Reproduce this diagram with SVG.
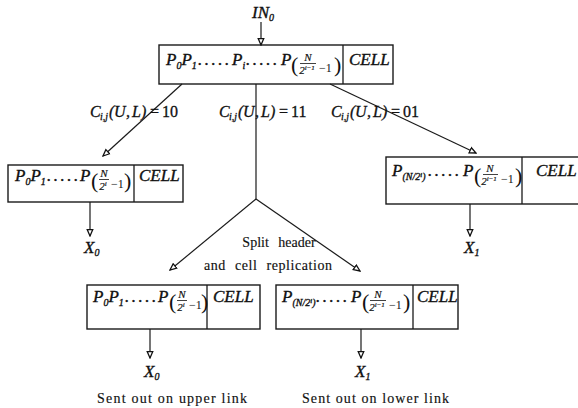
<svg xmlns="http://www.w3.org/2000/svg" width="578" height="408" viewBox="0 0 578 408">
  <style>
    .box { fill: #fff; stroke: #1a1a1a; stroke-width: 1.4; }
    .div { stroke: #1a1a1a; stroke-width: 1.3; }
    .ln { stroke: #1a1a1a; stroke-width: 1.2; fill: none; }
    .arw { marker-end: url(#ah); }
    .m { font-family: "Liberation Serif", serif; font-style: italic; font-size: 17px; fill: #111; stroke: #111; stroke-width: 0.35; }
    .s { font-size: 10px; }
    .fr { font-family: "Liberation Serif", serif; font-style: italic; font-size: 11px; fill: #111; text-anchor: middle; stroke: #111; stroke-width: 0.2; }
    .sp { font-size: 7px; }
    .r { font-family: "Liberation Serif", serif; font-size: 12px; fill: #111; }
    .pa { font-family: "Liberation Serif", serif; font-size: 22px; fill: #111; }
    .dots { letter-spacing: 2.5px; }
    .lab { font-family: "Liberation Serif", serif; font-size: 16px; fill: #111; stroke: #111; stroke-width: 0.3; }
    .it { font-style: italic; }
    .cap { font-family: "Liberation Serif", serif; font-size: 14px; fill: #111; stroke: #111; stroke-width: 0.15; }
    .bar { stroke: #111; stroke-width: 0.8; }
  </style>
  <defs>
    <marker id="ah" viewBox="0 0 10 10" refX="9" refY="5" markerWidth="8" markerHeight="8" orient="auto" markerUnits="userSpaceOnUse">
      <path d="M1,1.5 L9,5 L1,8.5 Z" fill="#fff" stroke="#111" stroke-width="1.6"/>
    </marker>
  </defs>

  <!-- input label -->
  <g id="in0">
    <text class="m" x="252" y="18" font-size="16">IN<tspan class="s" dy="3">0</tspan></text>
  </g>

  <!-- incoming cell with full header -->
  <g id="top">
    <rect class="box" x="159" y="45" width="234" height="39"/>
    <line class="div" x1="343" y1="45" x2="343" y2="84"/>
    <text class="m" x="166" y="65">P<tspan class="s" dy="4">0</tspan><tspan dy="-4">P</tspan><tspan class="s" dy="4">1</tspan></text>
    <text class="m dots" x="198" y="65">.....</text>
    <text class="m" x="232" y="65">P<tspan class="s" dy="4">i</tspan></text>
    <text class="m dots" x="246" y="65">.....</text>
    <text class="m" x="281" y="65">P</text>
    <text class="pa" x="291" y="72">(</text>
    <text class="fr" x="308" y="61">N</text>
    <line class="bar" x1="300" y1="63.5" x2="316" y2="63.5"/>
    <text class="fr" x="307" y="74">2<tspan class="sp" dy="-4">i−1</tspan></text>
    <text class="r" x="319" y="72">−1</text>
    <text class="pa" x="334" y="72">)</text>
    <text class="m" x="349" y="65">CELL</text>
  </g>

  <!-- upper output only -->
  <g id="left">
    <rect class="box" x="8" y="165" width="175" height="37"/>
    <line class="div" x1="134" y1="165" x2="134" y2="202"/>
    <text class="m" x="15" y="181">P<tspan class="s" dy="4">0</tspan><tspan dy="-4">P</tspan><tspan class="s" dy="4">1</tspan></text>
    <text class="m dots" x="47" y="181">.....</text>
    <text class="m" x="80" y="181">P</text>
    <text class="pa" x="91" y="188">(</text>
    <text class="fr" x="104" y="177">N</text>
    <line class="bar" x1="99" y1="179.5" x2="109" y2="179.5"/>
    <text class="fr" x="103" y="190">2<tspan class="sp" dy="-4">i</tspan></text>
    <text class="r" x="111" y="188">−1</text>
    <text class="pa" x="124" y="188">)</text>
    <text class="m" x="139" y="181">CELL</text>
  </g>

  <!-- lower output only -->
  <g id="right">
    <rect class="box" x="386" y="157" width="198" height="47"/>
    <line class="div" x1="522" y1="157" x2="522" y2="204"/>
    <text class="m" x="392" y="176">P<tspan class="s" dy="4">(N/2<tspan class="sp" dy="-3">i</tspan><tspan dy="3">)</tspan></tspan></text>
    <text class="m dots" x="428" y="176">.....</text>
    <text class="m" x="463" y="176">P</text>
    <text class="pa" x="474" y="183">(</text>
    <text class="fr" x="490" y="172">N</text>
    <line class="bar" x1="483" y1="174.5" x2="498" y2="174.5"/>
    <text class="fr" x="489" y="185">2<tspan class="sp" dy="-4">i−1</tspan></text>
    <text class="r" x="501" y="183">−1</text>
    <text class="pa" x="515" y="183">)</text>
    <text class="m" x="536" y="176">CELL</text>
  </g>

  <!-- replicated copy, upper link -->
  <g id="copy-upper">
    <rect class="box" x="87" y="285" width="173" height="44"/>
    <line class="div" x1="207" y1="285" x2="207" y2="329"/>
    <text class="m" x="93" y="302">P<tspan class="s" dy="4">0</tspan><tspan dy="-4">P</tspan><tspan class="s" dy="4">1</tspan></text>
    <text class="m dots" x="125" y="302">.....</text>
    <text class="m" x="158" y="302">P</text>
    <text class="pa" x="169" y="309">(</text>
    <text class="fr" x="182" y="298">N</text>
    <line class="bar" x1="177" y1="300.5" x2="187" y2="300.5"/>
    <text class="fr" x="181" y="311">2<tspan class="sp" dy="-4">i</tspan></text>
    <text class="r" x="189" y="309">−1</text>
    <text class="pa" x="201" y="309">)</text>
    <text class="m" x="213" y="302">CELL</text>
  </g>

  <!-- replicated copy, lower link -->
  <g id="copy-lower">
    <rect class="box" x="276" y="285" width="182" height="44"/>
    <line class="div" x1="413" y1="285" x2="413" y2="329"/>
    <text class="m" x="282" y="302">P<tspan class="s" dy="4">(N/2<tspan class="sp" dy="-3">i</tspan><tspan dy="3">)</tspan></tspan></text>
    <text class="m dots" x="316" y="302">.....</text>
    <text class="m" x="351" y="302">P</text>
    <text class="pa" x="362" y="309">(</text>
    <text class="fr" x="378" y="298">N</text>
    <line class="bar" x1="370" y1="300.5" x2="386" y2="300.5"/>
    <text class="fr" x="377" y="311">2<tspan class="sp" dy="-4">i−1</tspan></text>
    <text class="r" x="389" y="309">−1</text>
    <text class="pa" x="403" y="309">)</text>
    <text class="m" x="417" y="302">CELL</text>
  </g>

  <!-- connectors -->
  <g id="connectors">
    <line class="ln arw" x1="261" y1="22" x2="261" y2="45"/>
    <line class="ln arw" x1="182" y1="84" x2="103" y2="156"/>
    <line class="ln" x1="256" y1="84" x2="256" y2="199"/>
    <line class="ln arw" x1="330" y1="84" x2="476" y2="153"/>
    <line class="ln arw" x1="256" y1="199" x2="170" y2="270"/>
    <line class="ln arw" x1="256" y1="199" x2="360" y2="271"/>
    <line class="ln arw" x1="90" y1="202" x2="90" y2="236"/>
    <line class="ln arw" x1="470" y1="204" x2="470" y2="236"/>
    <line class="ln arw" x1="150" y1="329" x2="150" y2="358"/>
    <line class="ln arw" x1="361" y1="329" x2="361" y2="358"/>
  </g>

  <!-- routing-bit labels -->
  <g id="labels">
    <text class="lab" y="117"><tspan class="it" x="90">C</tspan><tspan class="it s" x="100" dy="3">i,j</tspan><tspan class="it" x="109" dy="-3">(</tspan><tspan class="it" x="114">U</tspan><tspan class="it" x="126">,</tspan><tspan class="it" x="132">L</tspan><tspan class="it" x="141">)</tspan><tspan x="150">=</tspan><tspan x="162">10</tspan></text>
    <text class="lab" y="117"><tspan class="it" x="219">C</tspan><tspan class="it s" x="229" dy="3">i,j</tspan><tspan class="it" x="238" dy="-3">(</tspan><tspan class="it" x="243">U</tspan><tspan class="it" x="255">,</tspan><tspan class="it" x="261">L</tspan><tspan class="it" x="270">)</tspan><tspan x="279">=</tspan><tspan x="291">11</tspan></text>
    <text class="lab" y="117"><tspan class="it" x="331">C</tspan><tspan class="it s" x="341" dy="3">i,j</tspan><tspan class="it" x="350" dy="-3">(</tspan><tspan class="it" x="355">U</tspan><tspan class="it" x="367">,</tspan><tspan class="it" x="373">L</tspan><tspan class="it" x="382">)</tspan><tspan x="391">=</tspan><tspan x="403">01</tspan></text>
  </g>

  <!-- output port labels -->
  <g id="outputs">
    <text class="m" x="84" y="253" font-size="16">X<tspan class="s" dy="3">0</tspan></text>
    <text class="m" x="464" y="253" font-size="16">X<tspan class="s" dy="3">1</tspan></text>
    <text class="m" x="144" y="377" font-size="16">X<tspan class="s" dy="3">0</tspan></text>
    <text class="m" x="355" y="377" font-size="16">X<tspan class="s" dy="3">1</tspan></text>
  </g>

  <!-- captions -->
  <g id="captions">
    <text class="cap" x="279" y="247" text-anchor="middle" word-spacing="6">Split header</text>
    <text class="cap" x="204" y="270" textLength="128" word-spacing="5">and cell replication</text>
    <text class="cap" x="97" y="403" textLength="150">Sent out on upper link</text>
    <text class="cap" x="302" y="403" textLength="147">Sent out on lower link</text>
  </g>
</svg>
